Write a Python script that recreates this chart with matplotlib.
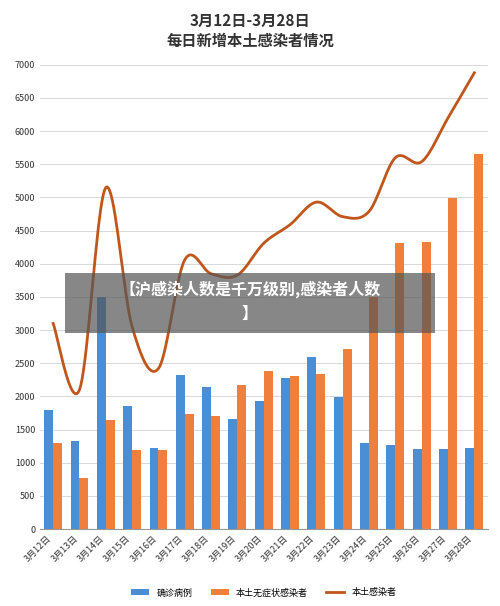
import numpy as np
import matplotlib.pyplot as plt

plt.rcParams['font.family'] = ['Noto Sans CJK SC', 'DejaVu Sans']

dates = [f"3月{d}日" for d in range(12, 29)]
confirmed = [1800, 1330, 3500, 1855, 1220, 2320, 2140, 1660, 1930, 2280, 2590, 1990, 1300, 1270, 1210, 1210, 1220]
asymptomatic = [1300, 770, 1640, 1190, 1190, 1735, 1705, 2170, 2380, 2310, 2340, 2715, 3500, 4315, 4330, 4995, 5655]
local_total = [3100, 2100, 5150, 3050, 2420, 4060, 3850, 3830, 4310, 4590, 4930, 4710, 4790, 5600, 5540, 6200, 6880]

BLUE = "#4a8fd6"
ORANGE = "#f07f3c"
LINE = "#c0561b"


def catmull(x, y, n=20):
    # smooth curve through the points, like the office chart style
    x = np.asarray(x, float); y = np.asarray(y, float)
    px = np.r_[x[0], x, x[-1]]; py = np.r_[y[0], y, y[-1]]
    xs, ys = [], []
    t = np.linspace(0, 1, n, endpoint=False)
    for i in range(1, len(px) - 2):
        for p, out in ((px, xs), (py, ys)):
            p0, p1, p2, p3 = p[i - 1], p[i], p[i + 1], p[i + 2]
            out.extend(0.5 * (2 * p1 + (-p0 + p2) * t + (2 * p0 - 5 * p1 + 4 * p2 - p3) * t ** 2
                              + (-p0 + 3 * p1 - 3 * p2 + p3) * t ** 3))
    xs.append(x[-1]); ys.append(y[-1])
    return xs, ys


fig = plt.figure(figsize=(5, 6.06), dpi=100)
ax = fig.add_axes([0.08, 0.127, 0.895, 0.766])
x = np.arange(len(dates))
w = 0.34
b1 = ax.bar(x - w / 2, confirmed, w, color=BLUE, label="确诊病例", zorder=2)
b2 = ax.bar(x + w / 2, asymptomatic, w, color=ORANGE, label="本土无症状感染者", zorder=2)
sx, sy = catmull(x, local_total)
l1, = ax.plot(sx, sy, color=LINE, lw=2, label="本土感染者", zorder=3)

ax.set_ylim(0, 7000)
ax.set_yticks(range(0, 7001, 500))
ax.set_xlim(-0.5, len(dates) - 0.5)
ax.set_xticks(x)
ax.set_xticklabels(dates, rotation=45, ha="right", fontsize=6.5, color="#333333")
ax.tick_params(axis="y", labelsize=6.5, colors="#333333", length=0)
ax.tick_params(axis="x", length=0)
ax.grid(axis="y", color="#d8d8d8", lw=0.7, zorder=0)
for s in ["top", "right", "left"]:
    ax.spines[s].set_visible(False)
ax.spines["bottom"].set_color("#999999")

fig.text(0.5, 0.965, "3月12日-3月28日", ha="center", va="center", fontsize=11, weight="bold", color="#333333")
fig.text(0.5, 0.932, "每日新增本土感染者情况", ha="center", va="center", fontsize=11, weight="bold", color="#333333")

ax.legend(handles=[b1, b2, l1], loc="upper center", bbox_to_anchor=(0.5, -0.11), ncol=3,
          frameon=False, fontsize=6.5)

# banner overlay
fig.patches.append(plt.Rectangle((0.13, 0.45), 0.74, 0.1, transform=fig.transFigure,
                                 facecolor="#555555", alpha=0.7, zorder=5))
fig.text(0.5, 0.522, "【沪感染人数是千万级别,感染者人数", ha="center", va="center", fontsize=11.5,
         weight="bold", color="white", zorder=6)
fig.text(0.5, 0.482, "】", ha="center", va="center", fontsize=11.5, weight="bold", color="white", zorder=6)

fig.savefig("out.png", dpi=100, facecolor="white")
